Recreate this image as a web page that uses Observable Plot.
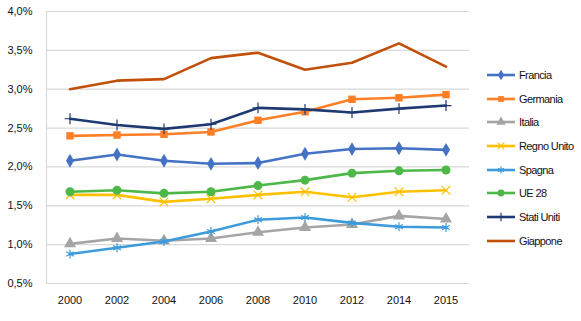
<!DOCTYPE html>
<html><head><meta charset="utf-8">
<script src="https://cdn.jsdelivr.net/npm/d3@7"></script>
<script src="https://cdn.jsdelivr.net/npm/@observablehq/plot@0.6"></script>
<style>
body{margin:0;background:#fff;font-family:"Liberation Sans",Arial,sans-serif;}
#wrap{position:relative;width:581px;height:321px;}
#legend{position:absolute;left:486px;top:63px;}
.row{height:23.7px;display:flex;align-items:center;font-size:11px;letter-spacing:-0.6px;color:#111;}
.row svg{margin-right:3px;}
</style></head>
<body><div id="wrap"><div id="chart"></div><div id="legend"></div></div>
<script>
const years = ["2000","2002","2004","2006","2008","2010","2012","2014","2015"];
const seriesNames = ["Francia","Germania","Italia","Regno Unito","Spagna","UE 28","Stati Uniti","Giappone"];
const francia    = [2.08,2.16,2.08,2.04,2.05,2.17,2.23,2.24,2.22];
const germania   = [2.40,2.41,2.42,2.45,2.60,2.71,2.87,2.89,2.93];
const italia     = [1.01,1.08,1.05,1.08,1.16,1.22,1.26,1.37,1.33];
const regnoUnito = [1.64,1.64,1.55,1.59,1.64,1.68,1.61,1.68,1.70];
const spagna     = [0.88,0.96,1.04,1.17,1.32,1.35,1.28,1.23,1.22];
const ue28       = [1.68,1.70,1.66,1.68,1.76,1.83,1.92,1.95,1.96];
const statiUniti = [2.62,2.54,2.49,2.55,2.76,2.74,2.70,2.75,2.79];
const giappone   = [3.00,3.11,3.13,3.40,3.47,3.25,3.34,3.59,3.29];
const yTicks = [0.5,1.0,1.5,2.0,2.5,3.0,3.5,4.0];

const values = [francia,germania,italia,regnoUnito,spagna,ue28,statiUniti,giappone];
const colors = ["#4472C4","#FF7F27","#A5A5A5","#FFC000","#3E9BDB","#4DB848","#1F3A73","#C0500A"];
const symbols = ["diamond","square","triangle","times","asterisk","circle","plus",null];
const filled = [true,true,true,false,false,true,false,false];
const sizes = [4.2,4.2,4.5,4,4.2,4.5,3.6,0];

const data = [];
seriesNames.forEach((s,i)=>years.forEach((y,j)=>data.push({series:s,year:y,value:values[i][j],idx:i})));

const marks = [
  Plot.ruleY(yTicks,{stroke:"#d9d9d9",strokeWidth:1.2}),
  Plot.ruleX([years[0]],{stroke:"#d9d9d9",strokeWidth:1.2,dx:-23.5,y1:0.5,y2:4.0}),
  Plot.axisY({ticks:yTicks,tickSize:0,tickPadding:14,tickFormat:d=>d.toFixed(1).replace(".",",")+"%",fontSize:11,label:null}),
  Plot.axisX({tickSize:0,tickPadding:13,fontSize:11,label:null})
];
seriesNames.forEach((s,i)=>{
  const d = data.filter(r=>r.idx===i);
  marks.push(Plot.line(d,{x:"year",y:"value",stroke:colors[i],strokeWidth:2.6,curve:"linear"}));
  if(symbols[i]){
    marks.push(Plot.dot(d,{x:"year",y:"value",symbol:()=>symbols[i],r:sizes[i],
      fill:filled[i]?colors[i]:"none",stroke:colors[i],strokeWidth:filled[i]?0:1.2}));
  }
});

const chart = Plot.plot({
  width:581,height:321,
  marginLeft:46,marginRight:112,marginTop:11,marginBottom:38,
  style:{fontFamily:"'Liberation Sans',Arial,sans-serif",fontSize:"11px",color:"#111",background:"#fff"},
  x:{type:"band",domain:years,padding:0},
  y:{domain:[0.5,4.0]},
  marks
});
document.getElementById("chart").appendChild(chart);

const leg = document.getElementById("legend");
seriesNames.forEach((s,i)=>{
  const row = document.createElement("div");row.className="row";
  const svgNS="http://www.w3.org/2000/svg";
  const svg=document.createElementNS(svgNS,"svg");svg.setAttribute("width",30);svg.setAttribute("height",12);
  const ln=document.createElementNS(svgNS,"line");
  ln.setAttribute("x1",1);ln.setAttribute("x2",29);ln.setAttribute("y1",6);ln.setAttribute("y2",6);
  ln.setAttribute("stroke",colors[i]);ln.setAttribute("stroke-width",2.6);svg.appendChild(ln);
  if(symbols[i]){
    const symMap={diamond:d3.symbolDiamond,square:d3.symbolSquare,triangle:d3.symbolTriangle,times:d3.symbolTimes,asterisk:d3.symbolAsterisk,circle:d3.symbolCircle,plus:d3.symbolPlus};
    const p=document.createElementNS(svgNS,"path");
    p.setAttribute("d",d3.symbol(symMap[symbols[i]],Math.PI*sizes[i]*sizes[i]*0.6)());
    p.setAttribute("transform","translate(15,6)");
    p.setAttribute("fill",filled[i]?colors[i]:"none");
    p.setAttribute("stroke",colors[i]);p.setAttribute("stroke-width",filled[i]?0:1.2);
    svg.appendChild(p);
  }
  row.appendChild(svg);
  const t=document.createElement("span");t.textContent=s;row.appendChild(t);
  leg.appendChild(row);
});
</script></body></html>
